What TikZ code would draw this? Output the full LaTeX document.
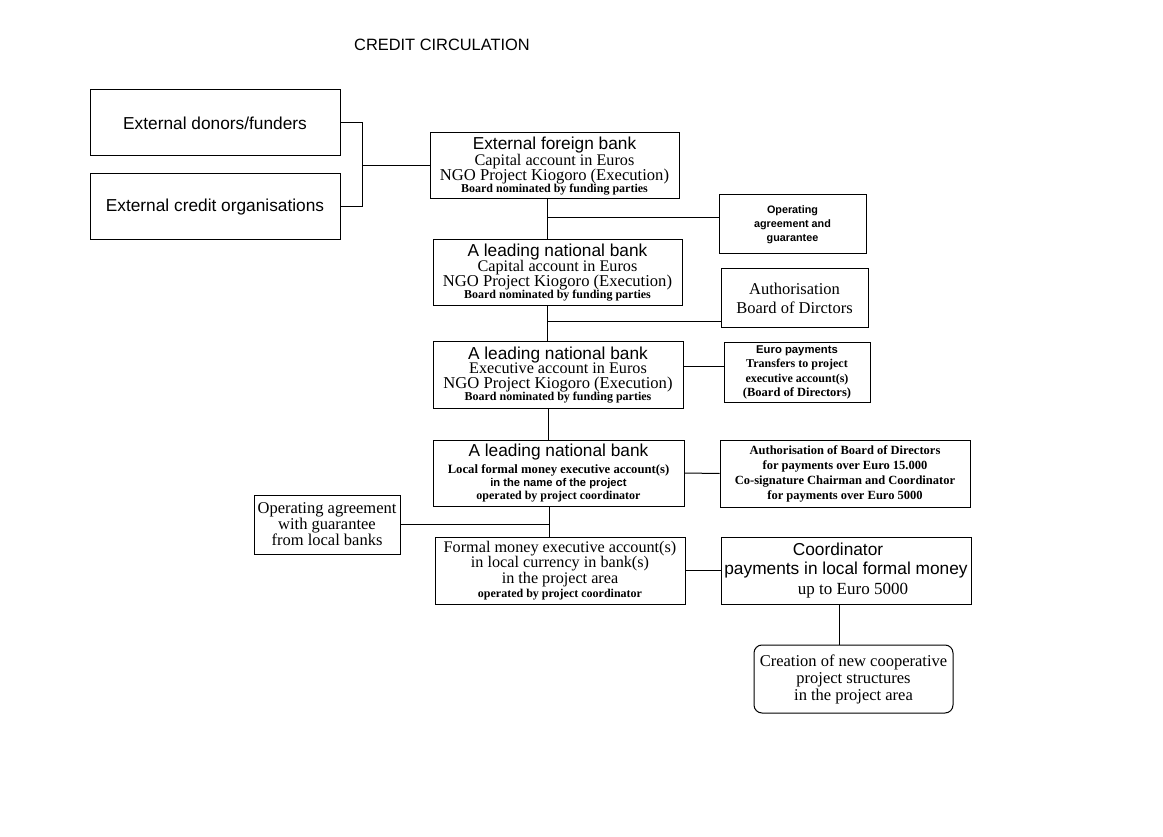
\documentclass[tikz,border=0pt]{standalone}
\usepackage{fontspec}
\setmainfont{Liberation Serif}
\newfontfamily\arl{Liberation Sans}
\newcommand\fs[2]{\fontsize{#1}{#2}\selectfont}
\newcommand\SA[1]{\arl\fs{#1}{#1}}
\newcommand\SB[1]{\arl\bfseries\fs{#1}{#1}}
\newcommand\RM[1]{\rmfamily\fs{#1}{#1}}
\newcommand\RB[1]{\rmfamily\bfseries\fs{#1}{#1}}
\begin{document}
\begin{tikzpicture}[x=1pt,y=-1pt,
  box/.style={draw, line width=1pt, inner sep=0pt, align=center},
  conn/.style={line width=1pt}]
\useasboundingbox[fill=white] (0,0) rectangle (1163,837);
\node[font=\SA{16.4}] (title) at (442,45) {CREDIT CIRCULATION};

\node[box, minimum width=250, minimum height=66, font=\SA{17.3}] (don) at (215,123) {External donors/funders};
\node[box, minimum width=250, minimum height=66, font=\SA{17.3}] (cred) at (215,207) {External credit organisations};

\node[box, minimum width=249, minimum height=66, font=\fs{10}{15.5}] (fb) at (554.5,166)
 {{\SA{17.3}External foreign bank}\\{\RM{16.2}Capital account in Euros}\\{\RM{16.6}NGO Project Kiogoro (Execution)}\\[-4pt]{\RB{12}Board nominated by funding parties}};
\node[box, minimum width=147, minimum height=59, font=\fs{10}{14}] (opag) at (792.5,224.5)
 {{\SB{10.8}Operating}\\{\SB{10.8}agreement and}\\{\SB{10.8}guarantee}};

\node[box, minimum width=249, minimum height=66, font=\fs{10}{15}] (nb1) at (557.5,273)
 {{\SA{17.3}A leading national bank}\\{\RM{16.2}Capital account in Euros}\\{\RM{16.6}NGO Project Kiogoro (Execution)}\\[-3pt]{\RB{12}Board nominated by funding parties}};
\node[box, minimum width=147, minimum height=59, font=\fs{10}{19}] (auth) at (794.5,298.5)
 {{\RM{16.5}Authorisation}\\{\RM{16.5}Board of Dirctors}};

\node[box, minimum width=250, minimum height=66, font=\fs{10}{14.5}] (nb2) at (558,375)
 {{\SA{17.3}A leading national bank}\\{\RM{16.2}Executive account in Euros}\\{\RM{16.6}NGO Project Kiogoro (Execution)}\\[-2pt]{\RB{12}Board nominated by funding parties}};
\node[box, minimum width=146, minimum height=59, font=\fs{10}{14.3}] (euro) at (797,372.5)
 {{\SB{11.3}Euro payments}\\{\RB{12}Transfers to project}\\{\RB{12}executive account(s)}\\{\RB{12.5}(Board of Directors)}};

\node[box, minimum width=251, minimum height=66, font=\fs{10}{12.5}] (nb3) at (558.5,473)
 {{\SA{17.3}A leading national bank}\\[3.5pt]{\RB{12.7}Local formal money executive account(s)}\\{\SB{11.2}in the name of the project}\\[0.5pt]{\RB{12}operated by project coordinator}};
\node[box, minimum width=250, minimum height=67, font=\fs{10}{15}] (authB) at (845,473.5)
 {{\RB{12.5}Authorisation of Board of Directors}\\{\RB{12.5}for payments over Euro 15.000}\\{\RB{12.5}Co-signature Chairman and Coordinator}\\{\RB{12.5}for payments over Euro 5000}};

\node[box, minimum width=146, minimum height=59, font=\fs{10}{16}] (opg) at (327,524.5)
 {{\RM{16.5}Operating agreement}\\{\RM{16.5}with guarantee}\\{\RM{16.5}from local banks}};
\node[box, minimum width=250, minimum height=67, font=\fs{10}{13.7}] (fm) at (560,570.5)
 {{\RM{16.2}Formal money executive account(s)}\\{\RM{16.2}in local currency in bank(s)}\\{\RM{16.2}in the project area}\\{\RB{12}operated by project coordinator}};
\node[box, minimum width=250, minimum height=67, font=\fs{10}{19.5}] (coord) at (846,570.5)
 {{\SA{17.3}Coordinator\hspace*{16pt}}\\{\SA{17.3}payments in local formal money}\\{\RM{17}\hspace*{14pt}up to Euro 5000}};
\node[box, rounded corners=8pt, minimum width=199, minimum height=68, font=\fs{10}{17}] (creat) at (853.5,679)
 {{\RM{16.5}Creation of new cooperative}\\{\RM{16.5}project structures}\\{\RM{16.5}in the project area}};

\coordinate (j) at (362,166);
\coordinate (tx) at (547,0);
\coordinate (tx2) at (548,0);
\coordinate (tx3) at (549,0);
\coordinate (h1) at (547,218);
\coordinate (h2) at (547,322);
\coordinate (h3) at (683,366);
\coordinate (vx) at (839,0);

\draw[conn] (don.east) -| (j);
\draw[conn] (cred.east) -| (j);
\draw[conn] (j) -- (fb.west);
\draw[conn] (fb.south -| tx) -- (nb1.north -| tx);
\draw[conn] (h1) -- (h1 -| opag.west);
\draw[conn] (nb1.south -| tx) -- (nb2.north -| tx);
\draw[conn] (h2) -- (h2 -| auth.west);
\draw[conn] (nb2.east |- h3) -- (euro.west |- h3);
\draw[conn] (nb2.south -| tx2) -- (nb3.north -| tx2);
\draw[conn] (nb3.east) -- (authB.west);
\draw[conn] (nb3.south -| tx3) -- (fm.north -| tx3);
\draw[conn] (opg.east) -- (opg.east -| tx3);
\draw[conn] (fm.east) -- (coord.west);
\draw[conn] (coord.south -| vx) -- (creat.north -| vx);
\end{tikzpicture}
\end{document}
